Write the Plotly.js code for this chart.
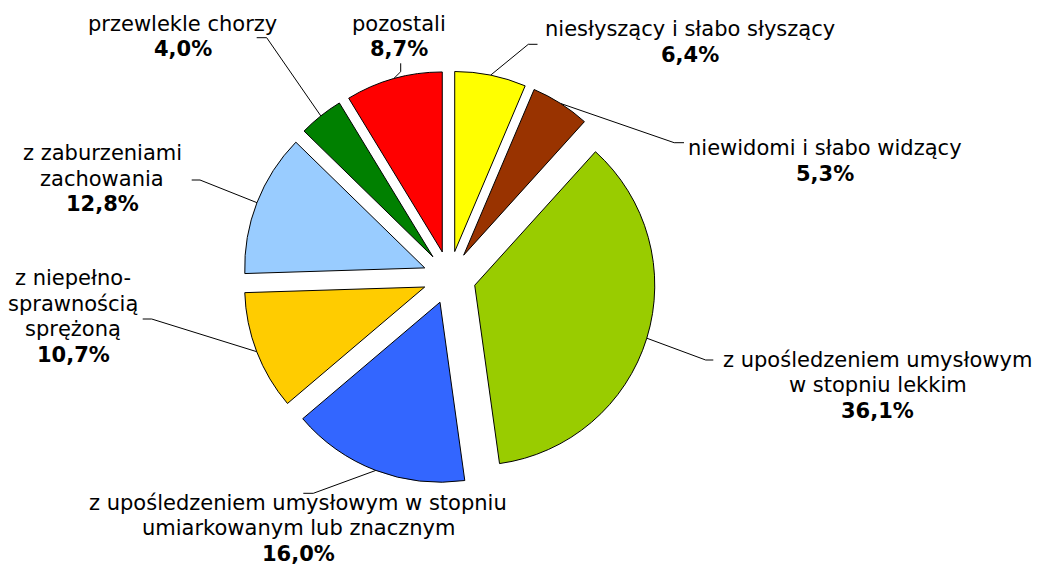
<!DOCTYPE html>
<html>
<head>
<meta charset="utf-8">
<script src="https://cdn.plot.ly/plotly-3.0.1.min.js"></script>
<style>html,body{margin:0;padding:0;background:#fff;}#chart{width:1039px;height:566px;}</style>
</head>
<body>
<div id="chart"></div>
<script>
// ---- data ----
const categories = [
  "niesłyszący i słabo słyszący",
  "niewidomi i słabo widzący",
  "z upośledzeniem umysłowym w stopniu lekkim",
  "z upośledzeniem umysłowym w stopniu umiarkowanym lub znacznym",
  "z niepełnosprawnością sprzężoną",
  "z zaburzeniami zachowania",
  "przewlekle chorzy",
  "pozostali"
];
const values = [6.4, 5.3, 36.1, 16.0, 10.7, 12.8, 4.0, 8.7];
const labelLines = [
  ["niesłyszący i słabo słyszący"],
  ["niewidomi i słabo widzący"],
  ["z upośledzeniem umysłowym", "w stopniu lekkim"],
  ["z upośledzeniem umysłowym w stopniu", "umiarkowanym lub znacznym"],
  ["z niepełno-", "sprawnością", "sprężoną"],
  ["z zaburzeniami", "zachowania"],
  ["przewlekle chorzy"],
  ["pozostali"]
];
const colors = ["#FFFF00", "#993300", "#99CC00", "#3366FF", "#FFCC00", "#99CCFF", "#008000", "#FF0000"];

// ---- layout constants (pixels) ----
const W = 1039, H = 566;
const domX = [0.2338, 0.6313], domY = [0.1449, 0.8746];
const pull = 0.147;
const lineGap = 25.4;
// label centre x and first-line y
const labelPos = [[689.5, 29.3], [825.4, 148.3], [877.8, 360], [298, 503], [73.3, 278.3], [102.2, 153.3], [182.7, 24], [398.5, 24]];
// leader elbow and end points
const leaderElbow = [[528.3, 44.3], [674.2, 142.7], [705.7, 360], [313.3, 493.3], [151.7, 319], [200, 180], [266.7, 37.7], [400.7, 71.7]];
const leaderEnd = [[537.5, 44.3], [684, 142.7], [713.3, 360], [303.3, 493.3], [142.7, 319], [191.7, 180], [256.7, 37.7], [400.7, 63.3]];

const FONT = "DejaVu Sans, Verdana, sans-serif";
const FSIZE = 21;
const fmt = v => v.toFixed(1).replace('.', ',') + '%';

const cx = (domX[0] + domX[1]) / 2 * W;
const cy = H - (domY[0] + domY[1]) / 2 * H;
const Rout = Math.min((domX[1] - domX[0]) * W, (domY[1] - domY[0]) * H) / 2; // r*(1+pull)
const total = values.reduce((a, b) => a + b, 0);

const px = x => x / W, py = y => 1 - y / H;

const shapes = [], annotations = [];
let cum = 0;
values.forEach((v, i) => {
  const mid = (cum + v / 2) / total * 2 * Math.PI;
  cum += v;
  const ax = cx + Rout * Math.sin(mid), ay = cy - Rout * Math.cos(mid);
  const e = leaderElbow[i], t = leaderEnd[i];
  shapes.push({
    type: 'path', xref: 'paper', yref: 'paper',
    path: `M ${px(ax)},${py(ay)} L ${px(e[0])},${py(e[1])} L ${px(t[0])},${py(t[1])}`,
    line: {color: '#000000', width: 1}
  });
  const lines = labelLines[i].concat(['<b>' + fmt(v) + '</b>']);
  lines.forEach((txt, k) => {
    annotations.push({
      xref: 'paper', yref: 'paper',
      x: px(labelPos[i][0]), y: py(labelPos[i][1] + k * lineGap),
      xanchor: 'center', yanchor: 'middle', align: 'center',
      showarrow: false,
      text: txt,
      font: {family: FONT, size: FSIZE, color: '#000000'}
    });
  });
});

const trace = {
  type: 'pie',
  values: values,
  labels: categories,
  sort: false,
  direction: 'clockwise',
  rotation: 0,
  pull: pull,
  textinfo: 'none',
  hoverinfo: 'label+percent',
  marker: {colors: colors, line: {color: '#000000', width: 1}},
  domain: {x: domX, y: domY},
  showlegend: false
};

const layout = {
  width: W, height: H,
  margin: {l: 0, r: 0, t: 0, b: 0},
  paper_bgcolor: '#FFFFFF',
  plot_bgcolor: '#FFFFFF',
  showlegend: false,
  font: {family: FONT, size: FSIZE, color: '#000000'},
  shapes: shapes,
  annotations: annotations
};

Plotly.newPlot('chart', [trace], layout, {displayModeBar: false, staticPlot: true});
</script>
</body>
</html>
